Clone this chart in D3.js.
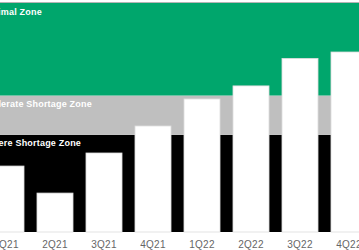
<!DOCTYPE html>
<html><head><meta charset="utf-8">
<script src="https://cdn.jsdelivr.net/npm/d3@7"></script>
<style>html,body{margin:0;padding:0;background:#fff;}svg{display:block;}</style>
</head><body>
<svg id="c" width="359" height="250"></svg>
<script>
const categories = ["1Q21","2Q21","3Q21","4Q21","1Q22","2Q22","3Q22","4Q22"];
const values = [28.8, 17.0, 34.5, 46.3, 58.1, 63.8, 75.8, 78.6];
const zoneNames = ["Severe Shortage Zone","Moderate Shortage Zone","Optimal Zone"];
const zoneLow = [0, 42.4, 59.6];
const zoneHigh = [42.4, 59.6, 100];
const zoneColors = ["#000000","#bfbfbf","#00a66c"];

const svg = d3.select("#c");
const x = d3.scaleBand().domain(categories).range([-18.5, 373.5]).paddingInner(0.265).paddingOuter(0.1325);
const y = d3.scaleLinear().domain([0, 100]).range([232, 3]);

svg.selectAll("rect.zone").data(zoneNames).join("rect")
  .attr("class","zone")
  .attr("x", 0).attr("width", 359)
  .attr("y", (d,i)=>y(zoneHigh[i]))
  .attr("height", (d,i)=>y(zoneLow[i]) - y(zoneHigh[i]))
  .attr("fill", (d,i)=>zoneColors[i]);

svg.append("line").attr("x1",0).attr("x2",359).attr("y1",y(100)-0.5).attr("y2",y(100)-0.5)
  .attr("stroke","#b5b5b5").attr("stroke-width",1);

svg.selectAll("text.zone").data(zoneNames).join("text")
  .attr("class","zone")
  .attr("x", -18)
  .attr("y", (d,i)=>y(zoneHigh[i]) + 11.5)
  .attr("fill","#fff")
  .attr("font-family","Liberation Sans, Arial, sans-serif")
  .attr("font-weight","bold")
  .attr("font-size", 9)
  .attr("letter-spacing", 0.2)
  .text(d=>d);

svg.selectAll("rect.bar").data(values).join("rect")
  .attr("class","bar")
  .attr("x", (d,i)=>x(categories[i]))
  .attr("width", x.bandwidth())
  .attr("y", d=>y(d))
  .attr("height", d=>y(0)-y(d))
  .attr("fill","#fff")
  .attr("stroke","#dcdcdc").attr("stroke-width",0.8);

const axis = d3.axisBottom(x).tickSize(0).tickPadding(9);
const g = svg.append("g").attr("transform",`translate(0,${y(0)})`).call(axis);
g.select(".domain").remove();
g.selectAll("text").attr("fill","#666666")
  .attr("font-family","Liberation Sans, Arial, sans-serif")
  .attr("font-size",10)
  .attr("letter-spacing", 0.3);
</script>
</body></html>
